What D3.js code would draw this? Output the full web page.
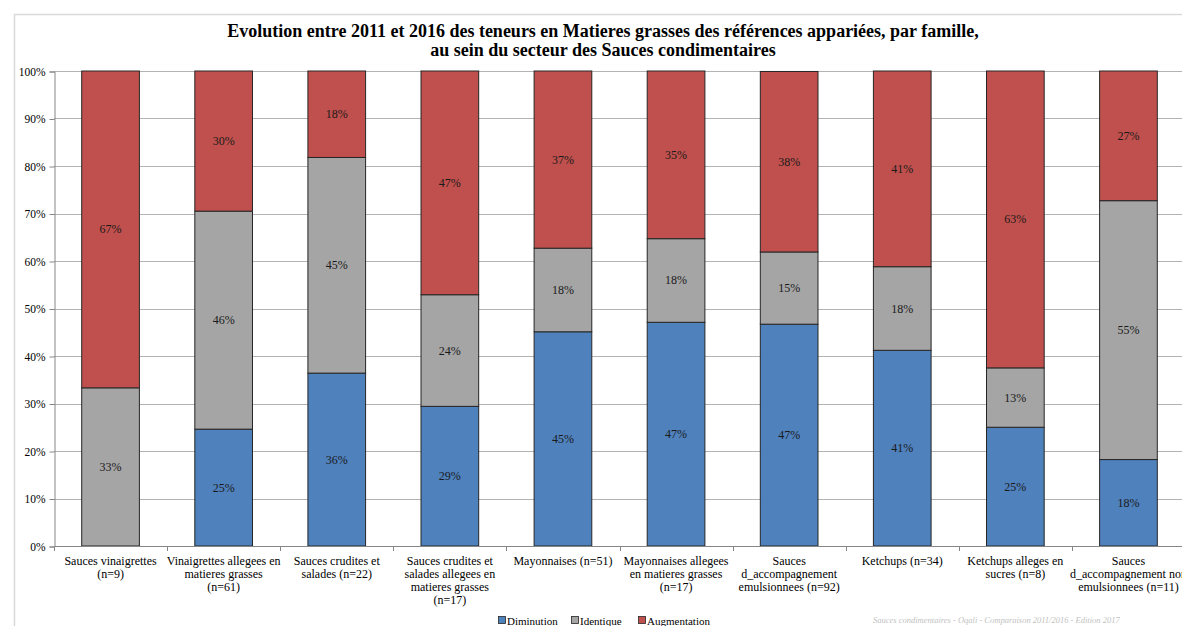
<!DOCTYPE html>
<html><head><meta charset="utf-8">
<script src="https://cdn.jsdelivr.net/npm/d3@7"></script>
<style>
html,body{margin:0;padding:0;background:#fff;}
svg{display:block;font-family:"Liberation Serif","DejaVu Serif",serif;}
</style></head>
<body>
<svg id="chart" width="1182" height="626"></svg>
<script>
const categories = [
  "Sauces vinaigrettes\n(n=9)",
  "Vinaigrettes allegees en\nmatieres grasses\n(n=61)",
  "Sauces crudites et\nsalades (n=22)",
  "Sauces crudites et\nsalades allegees en\nmatieres grasses\n(n=17)",
  "Mayonnaises (n=51)",
  "Mayonnaises allegees\nen matieres grasses\n(n=17)",
  "Sauces\nd_accompagnement\nemulsionnees (n=92)",
  "Ketchups (n=34)",
  "Ketchups alleges en\nsucres (n=8)",
  "Sauces\nd_accompagnement non\nemulsionnees (n=11)"
];
const diminution   = [0, 24.6, 36.4, 29.4, 45.1, 47.1, 46.7, 41.2, 25.0, 18.2];
const identique    = [33.3, 45.9, 45.4, 23.5, 17.6, 17.6, 15.2, 17.6, 12.5, 54.5];
const augmentation = [66.7, 29.5, 18.2, 47.1, 37.3, 35.3, 38.0, 41.2, 62.5, 27.3];
const seriesNames = ["Diminution", "Identique", "Augmentation"];
const seriesColors = ["#4F81BD", "#A5A5A5", "#C0504D"];
const yTicks = [0,10,20,30,40,50,60,70,80,90,100];
const titleLines = [
  "Evolution entre 2011 et 2016 des teneurs en Matieres grasses des références appariées, par famille,",
  "au sein du secteur des Sauces condimentaires"
];
const footnote = "Sauces condimentaires - Oqali - Comparaison 2011/2016 - Edition 2017";

const svg = d3.select("#chart");
const pLeft = 54, pRight = 1185, pTop = 71, pBottom = 546;

// outer border
svg.append("rect").attr("x",14.5).attr("y",14.5).attr("width",1200).attr("height",700)
  .attr("fill","none").attr("stroke","#d9d9d9").attr("stroke-width",1.5);

// title
svg.append("g").selectAll("text").data(titleLines).join("text")
  .attr("x",603).attr("y",(d,i)=>37+i*19).attr("text-anchor","middle")
  .attr("font-weight","bold").attr("font-size",18).attr("fill","#000").text(d=>d);

const x = d3.scaleBand().domain(categories).range([pLeft,pRight]).paddingInner(0.49).paddingOuter(0.245);
const y = d3.scaleLinear().domain([0,100]).range([pBottom,pTop]);

// gridlines
svg.append("g").selectAll("line").data(yTicks.slice(1)).join("line")
  .attr("x1",pLeft).attr("x2",pRight).attr("y1",d=>Math.round(y(d))+0.5).attr("y2",d=>Math.round(y(d))+0.5)
  .attr("stroke","#b3b3b3").attr("stroke-width",1);

// y axis
const yAxis = d3.axisLeft(y).tickValues(yTicks).tickFormat(d=>d+"%").tickSize(5).tickPadding(4);
const ga = svg.append("g").attr("transform",`translate(${pLeft+0.5},0.5)`).call(yAxis);
ga.attr("font-family",null);
ga.selectAll("path,line").attr("stroke","#868686");
ga.selectAll("text").attr("font-family","Liberation Serif").attr("font-size",11.5).attr("fill","#000");

// stack
const rows = categories.map((c,i)=>({cat:c, Diminution:diminution[i], Identique:identique[i], Augmentation:augmentation[i]}));
const stack = d3.stack().keys(seriesNames)(rows);

const gBars = svg.append("g");
stack.forEach((layer,si)=>{
  const g = gBars.append("g");
  g.selectAll("rect").data(layer.filter(d=>d[1]-d[0]>0)).join("rect")
    .attr("x",d=>x(d.data.cat)).attr("width",x.bandwidth())
    .attr("y",d=>y(d[1])).attr("height",d=>y(d[0])-y(d[1]))
    .attr("fill",seriesColors[si]).attr("stroke","#262626").attr("stroke-width",1);
});
stack.forEach((layer,si)=>{
  gBars.append("g").selectAll("text").data(layer.filter(d=>d[1]-d[0]>0)).join("text")
    .attr("x",d=>x(d.data.cat)+x.bandwidth()/2).attr("y",d=>y((d[0]+d[1])/2)+4)
    .attr("text-anchor","middle").attr("font-size",12).attr("fill","#1a1a1a")
    .text(d=>Math.round(d[1]-d[0])+"%");
});

// x axis
svg.append("line").attr("x1",pLeft).attr("x2",pRight).attr("y1",pBottom+0.5).attr("y2",pBottom+0.5).attr("stroke","#868686");
const step = x.step();
svg.append("g").selectAll("line").data(d3.range(categories.length+1)).join("line")
  .attr("x1",i=>Math.round(pLeft+i*step)+0.5).attr("x2",i=>Math.round(pLeft+i*step)+0.5)
  .attr("y1",pBottom).attr("y2",pBottom+5).attr("stroke","#868686");
const xl = svg.append("g").selectAll("text").data(categories).join("text")
  .attr("x",d=>x(d)+x.bandwidth()/2).attr("y",565).attr("text-anchor","middle")
  .attr("font-size",12).attr("fill","#000");
xl.each(function(d){
  const t = d3.select(this);
  d.split("\n").forEach((ln,i)=>{
    t.append("tspan").attr("x",x(d)+x.bandwidth()/2).attr("dy",i===0?0:13).text(ln);
  });
});

// legend
const legendX = [498, 571, 638];
const lg = svg.append("g").selectAll("g").data(seriesNames).join("g")
  .attr("transform",(d,i)=>`translate(${legendX[i]},616)`);
lg.append("rect").attr("x",0.5).attr("y",0.5).attr("width",7).attr("height",7)
  .attr("fill",(d,i)=>seriesColors[i]).attr("stroke","#262626").attr("stroke-width",0.8);
lg.append("text").attr("x",9).attr("y",8.5).attr("font-size",11).attr("fill","#000").text(d=>d);

// footnote
svg.append("text").attr("x",873).attr("y",623).attr("font-size",8.5).attr("font-style","italic")
  .attr("fill","#bfbfbf").text(footnote);
</script>
</body></html>
